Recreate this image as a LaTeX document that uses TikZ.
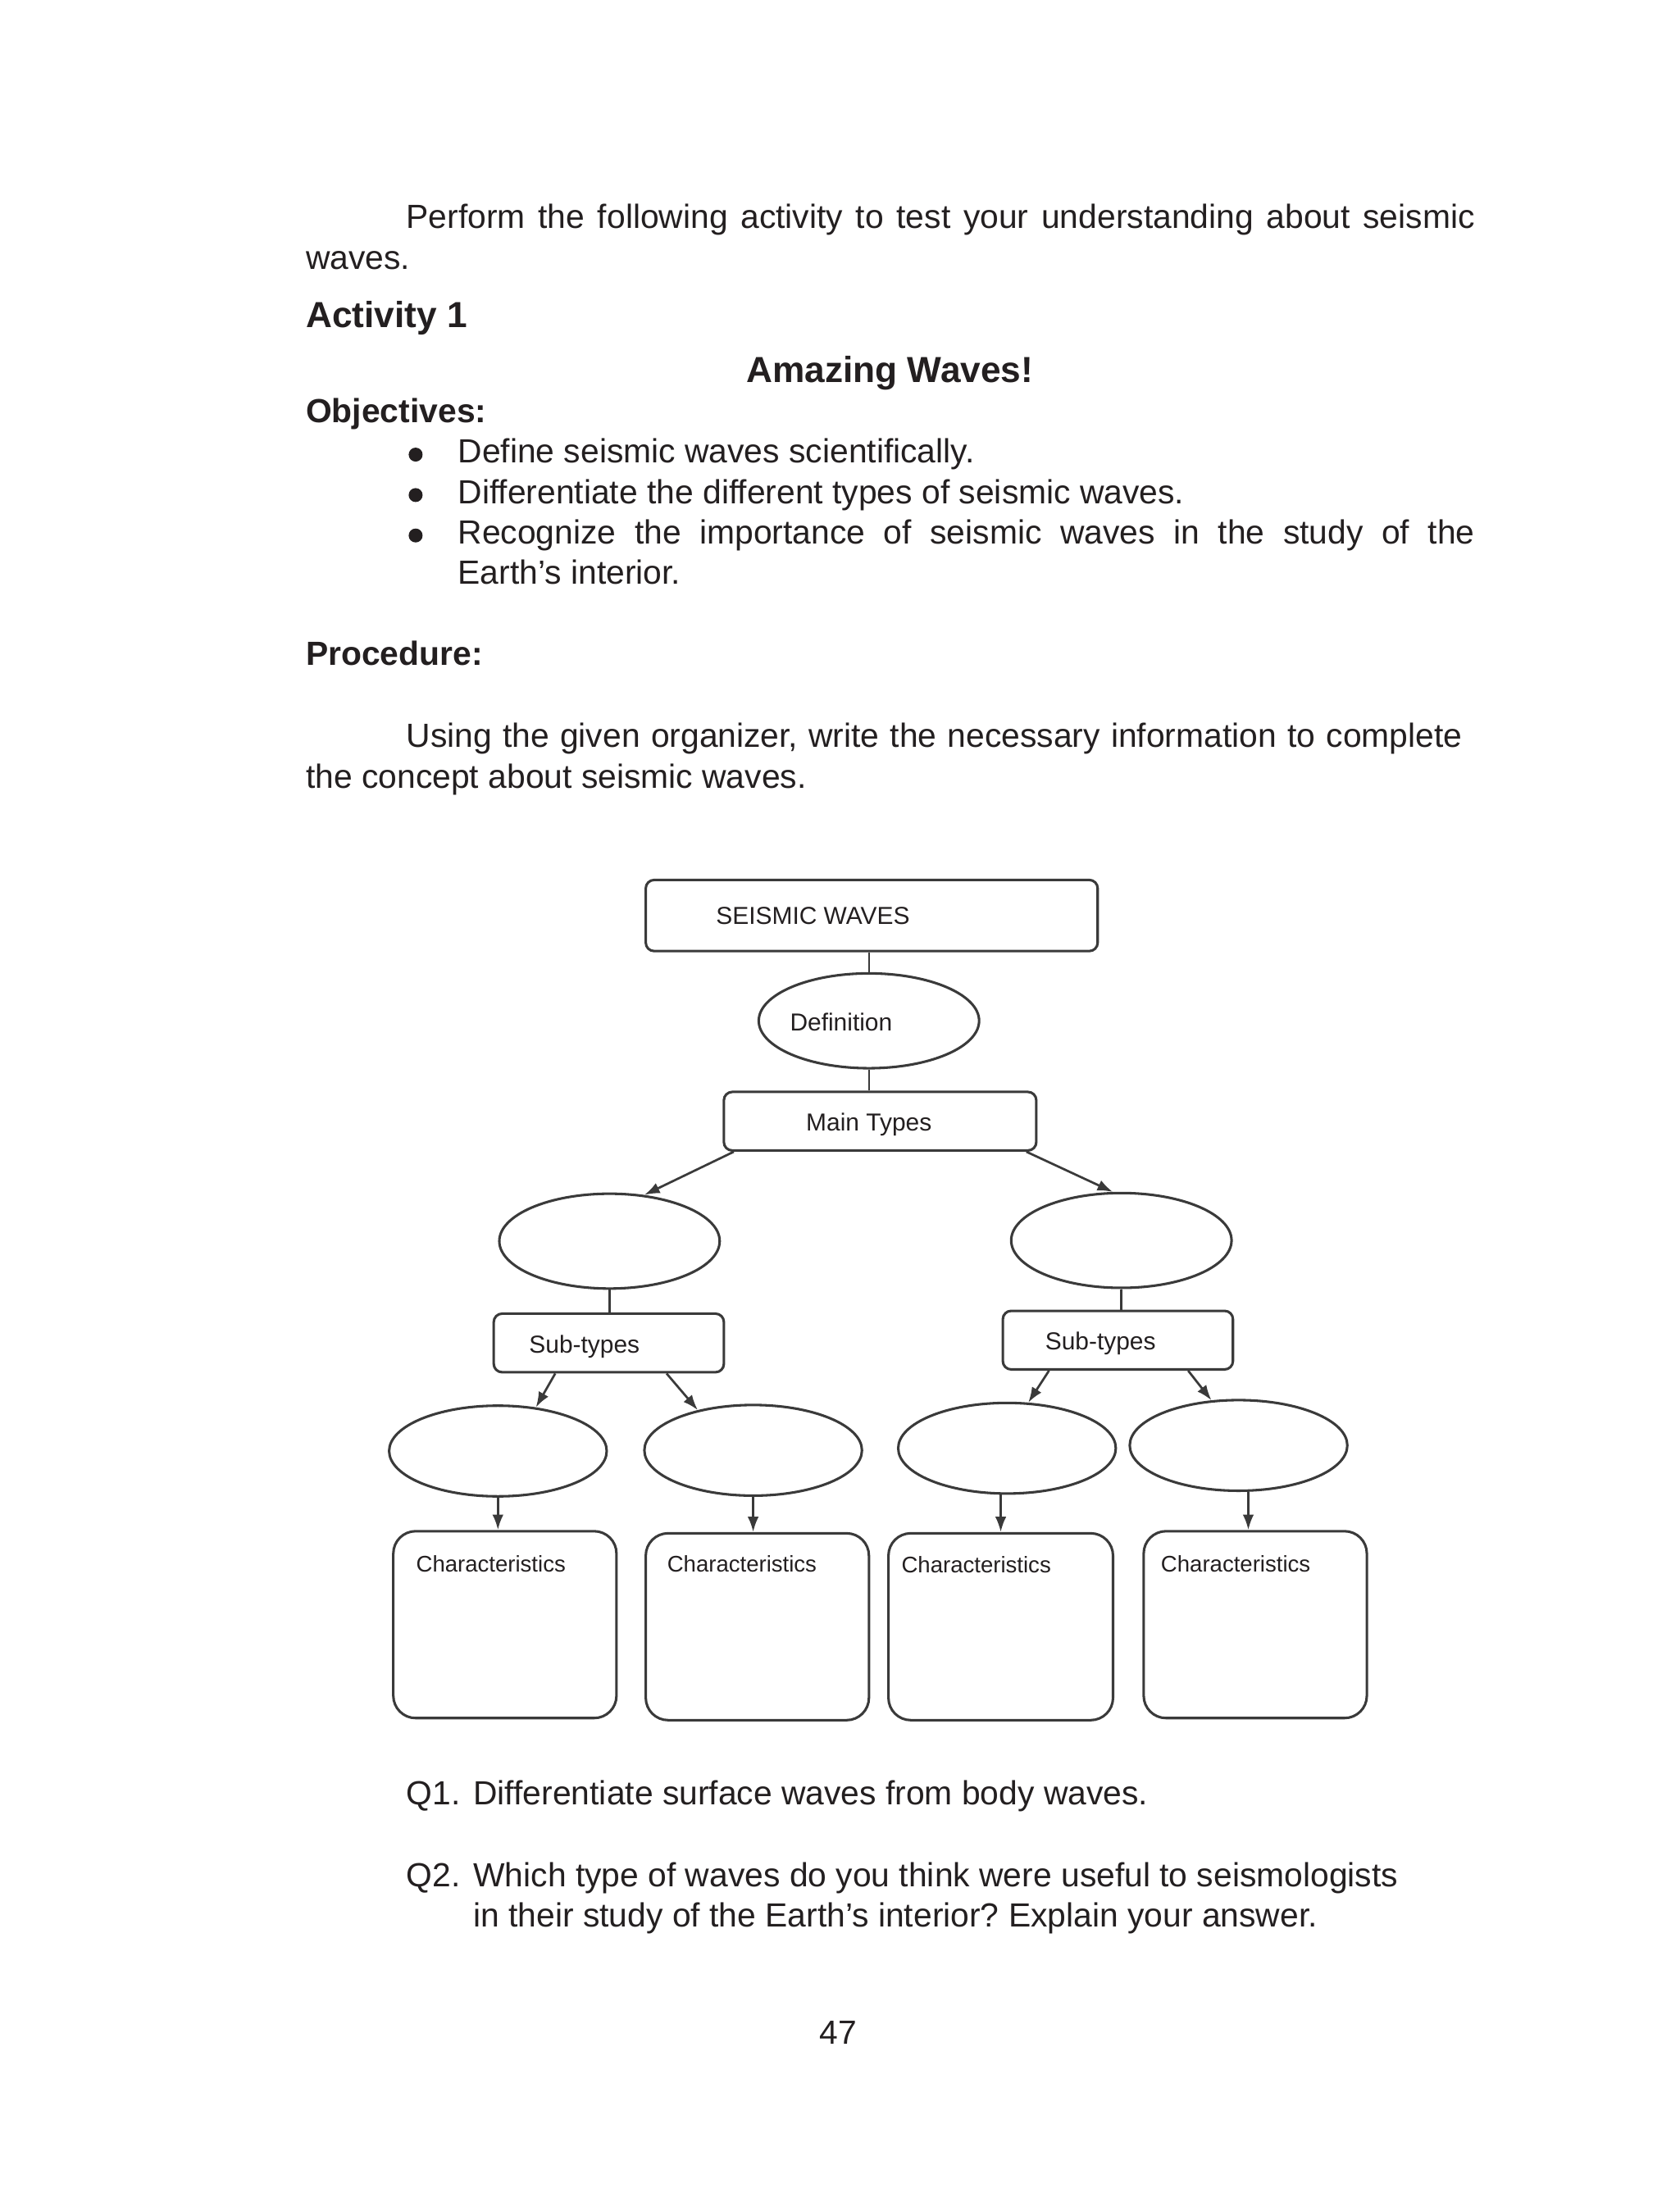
\documentclass[tikz,border=0pt]{standalone}
\usepackage{fontspec}
\setmainfont{Liberation Sans}
\usetikzlibrary{arrows.meta,shapes.geometric,calc}
\definecolor{ink}{HTML}{231F20}
\definecolor{lineg}{HTML}{3A3A3A}
\frenchspacing
\begin{document}
\begin{tikzpicture}[x=0.5pt,y=-0.5pt,
  txt/.style={anchor=base west,inner sep=0pt,text=ink,font=\fontsize{12}{14}\selectfont},
  btxt/.style={anchor=base west,inner sep=0pt,text=ink,font=\bfseries\fontsize{12}{14}\selectfont},
  dtxt/.style={anchor=base west,inner sep=0pt,text=ink,font=\fontsize{8.8}{10}\selectfont},
  ctxt/.style={anchor=base west,inner sep=0pt,text=ink,font=\fontsize{8.1}{10}\selectfont},
  box/.style={draw=lineg,line width=0.9pt,rounded corners=3pt,fill=white,inner sep=0pt},
  cbox/.style={draw=lineg,line width=0.9pt,rounded corners=8pt,fill=white,inner sep=0pt,minimum width=80pt,minimum height=67pt},
  oval/.style={draw=lineg,line width=0.9pt,ellipse,fill=white,inner sep=0pt},
  bigoval/.style={oval,minimum width=79pt,minimum height=34pt},
  smoval/.style={oval,minimum width=78pt,minimum height=32.5pt},
  lin/.style={draw=lineg,line width=0.7pt},
  arr/.style={draw=lineg,line width=0.8pt,-{Latex[length=5.5pt,width=4pt]}},
  bullet/.style={circle,fill=ink,inner sep=0pt,minimum size=5pt}]
\fill[white] (0,0) rectangle (1204,1569);
\useasboundingbox (0,0) rectangle (1204,1569);

% ---- text above the organizer
\node[txt] (p1) at (291,164) {\makebox[383pt][s]{Perform the following activity to test your understanding about seismic}};
\node[txt] (p2) at (219,193) {waves.};
\node[btxt,font=\bfseries\fontsize{13}{15}\selectfont] (act) at (219,235) {Activity 1};
\node[btxt,anchor=base,font=\bfseries\fontsize{13}{15}\selectfont] (amz) at (638,274) {Amazing Waves!};
\node[btxt] (obj) at (219,303) {Objectives:};
\node[bullet] (bu1) at (298,326) {};
\node[bullet] (bu2) at (298,355) {};
\node[bullet] (bu3) at (298,384) {};
\node[txt] (o1) at (328,332) {Define seismic waves scientifically.};
\node[txt] (o2) at (328,361) {Differentiate the different types of seismic waves.};
\node[txt] (o3) at (328,390) {\makebox[364.5pt][s]{Recognize the importance of seismic waves in the study of the}};
\node[txt] (o4) at (328,419) {Earth’s interior.};
\node[btxt] (proc) at (219,477) {Procedure:};
\node[txt] (u1) at (291,536) {\makebox[378.5pt][s]{Using the given organizer, write the necessary information to complete}};
\node[txt] (u2) at (219,565) {the concept about seismic waves.};

% ---- organizer
\node[box,minimum width=162pt,minimum height=25.5pt] (sw) at (625,656.5) {};
\node[dtxt] (swt) at (513,663) {SEISMIC WAVES};
\node[bigoval] (def) at (623,732) {};
\node[dtxt] (deft) at (566,739) {Definition};
\node[box,minimum width=112pt,minimum height=21pt] (mt) at (631,804) {};
\node[dtxt,anchor=base] (mtt) at (623,811) {Main Types};
\node[bigoval] (m1) at (437,890) {};
\node[bigoval] (m2) at (804,889.5) {};
\node[box,minimum width=82.5pt,minimum height=21pt] (s1) at (436.5,963) {};
\node[dtxt] (s1t) at (379,970) {Sub-types};
\node[box,minimum width=82.5pt,minimum height=21pt] (s2) at (801.5,961) {};
\node[dtxt] (s2t) at (749,968) {Sub-types};
\node[smoval] (b1) at (357,1040.5) {};
\node[smoval] (b2) at (540,1040) {};
\node[smoval] (b3) at (722,1038.5) {};
\node[smoval] (b4) at (888,1036.5) {};
\node[cbox] (c1) at (362,1165) {};
\node[cbox] (c2) at (543,1166.5) {};
\node[cbox,minimum width=80.5pt] (c3) at (717.5,1166.5) {};
\node[cbox] (c4) at (900,1165) {};
\node[ctxt] (c1t) at (298,1127) {Characteristics};
\node[ctxt] (c2t) at (478,1127) {Characteristics};
\node[ctxt] (c3t) at (646,1128) {Characteristics};
\node[ctxt] (c4t) at (832,1127) {Characteristics};

% connectors
\draw[lin] (def.north |- sw.south) -- (def.north);
\draw[lin] (def.south) -- (def.south |- mt.north);
\draw[arr] ($(mt.south west)+(8,0)$) -- (m1.53);
\draw[arr] ($(mt.south east)+(-8,0)$) -- (m2.100);
\draw[lin] (m1.south) -- (m1.south |- s1.north);
\draw[lin] (m2.south) -- (m2.south |- s2.north);
\draw[arr] ($(s1.south west)+(45,0)$) -- (b1.49);
\draw[arr] ($(s1.south east)+(-42,0)$) -- (b2.144);
\draw[arr] ($(s2.south west)+(34,0)$) -- (b3.65);
\draw[arr] ($(s2.south east)+(-33,0)$) -- (b4.121);
\draw[arr] (b1.south) -- (b1.south |- c1.north);
\draw[arr] (b2.south) -- (b2.south |- c2.north);
\draw[arr] (c3.north |- b3.south) -- (c3.north);
\draw[arr] ($(b4.south)+(7,0)$) -- ($(b4.south |- c4.north)+(7,0)$);

% ---- questions
\node[txt] (q1) at (291,1294) {\makebox[24pt][l]{Q1.}Differentiate surface waves from body waves.};
\node[txt] (q2) at (291,1353) {\makebox[24pt][l]{Q2.}Which type of waves do you think were useful to seismologists};
\node[txt] (q2b) at (339,1382) {in their study of the Earth’s interior? Explain your answer.};
\node[txt,anchor=base] (pg) at (601,1466) {47};
\end{tikzpicture}
\end{document}
